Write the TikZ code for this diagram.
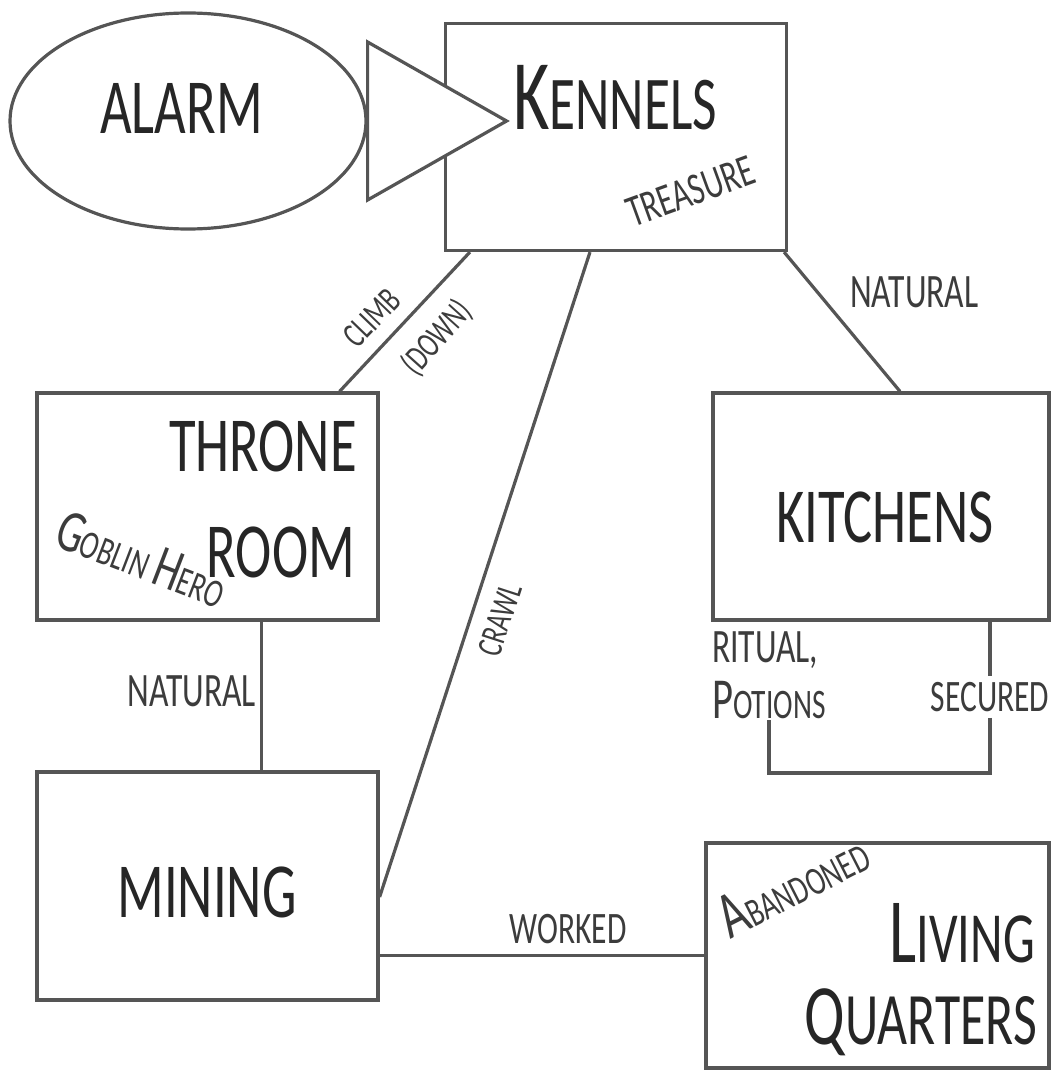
\documentclass[tikz,border=0pt]{standalone}
\usepackage{fontspec}
\setmainfont{Carlito}[FakeStretch=0.7]
\usepackage{tikz}
\usetikzlibrary{shapes.geometric}
\definecolor{ink}{HTML}{262626}
\definecolor{tagink}{HTML}{3c3c3c}
\definecolor{wallgrey}{HTML}{555555}
\newcommand{\titlefont}{\fontsize{78}{80}\selectfont}
\newcommand{\tagfont}{\fontsize{45}{48}\selectfont}
\newcommand{\widetagfont}{\fontsize{48}{50}\selectfont}
\newcommand{\linefont}{\fontsize{36}{40}\selectfont}
% first letter big, the rest as small capitals
\newcommand{\capsc}[4]{{\fontsize{#1}{#1}\selectfont #3}{\fontsize{#2}{#2}\selectfont #4}}

\begin{document}
\begin{tikzpicture}[
  x=1pt, y=-1pt,
  room/.style={draw=wallgrey, line width=3.2pt, minimum width=341pt,
               minimum height=227pt, inner sep=0pt},
  title/.style={text=ink, inner sep=0pt, font=\titlefont},
  tag/.style={text=tagink, inner sep=0pt, font=\tagfont},
  linetag/.style={text=tagink, inner sep=0pt, font=\linefont},
  link/.style={draw=wallgrey, line width=3.2pt}
]
\useasboundingbox (0,0) rectangle (1051,1070);

% rooms
\node[room, ellipse, minimum width=356pt, minimum height=216pt] (alarm) at (188,121) {};
\node[room] (kennels) at (616,137) {};
\draw[link, fill=white, line join=miter]
  ([yshift=79pt]alarm.east) -- ([xshift=139pt]alarm.east)
  -- ([yshift=-79pt]alarm.east) -- cycle;
\node[room] (throne) at (207.5,506.5) {};
\node[room, minimum width=336pt] (kitchens) at (881,506.5) {};
\node[room, minimum height=228pt] (mining) at (207.5,886) {};
\node[room, minimum width=343pt, minimum height=225pt] (living) at (877.5,955.5) {};

\node[title, anchor=base west] (alarmtxt) at (100,133) {ALARM};
\node[title, anchor=base west] (kennelstxt) at (513,130) {\capsc{100}{76}{K}{ENNELS}};
\node[title, anchor=base east] (thronetxt) at (357,471) {THRONE};
\node[title, anchor=base east] (roomtxt) at (355,577) {ROOM};
\node[title, anchor=base] (kitchenstxt) at (885,542) {KITCHENS};
\node[title, anchor=base] (miningtxt) at (207,917) {MINING};
\node[title, anchor=base east] (livingtxt) at (1035,962) {\capsc{92}{72}{L}{IVING}};
\node[title, anchor=base east] (quarterstxt) at (1037,1044) {\capsc{86}{74}{Q}{UARTERS}};

\node[tag, anchor=base west, rotate=20] (treasure) at (633,228) {TREASURE};
\node[tag, anchor=base west, rotate=-21] (goblin) at (52,545)
  {\capsc{60}{40}{G}{OBLIN} \capsc{60}{40}{H}{ERO}};
\node[tag, anchor=base west, rotate=27] (abandoned) at (730,940) {\capsc{66}{40}{A}{BANDONED}};

% passages
\draw[link] ([xshift=26pt]kennels.south west) -- ([xshift=-40pt]throne.north east);
\draw[link] ([xshift=-26pt]kennels.south) -- ([yshift=-11pt]mining.east);
\draw[link] ([xshift=-4pt]kennels.south east) -- ([xshift=19pt]kitchens.north);
\draw[link] ([xshift=54pt]throne.south) -- ([xshift=54pt]mining.north);
\draw[link] (mining.east |- living.west) -- (living.west);

\node[linetag, rotate=46] (climb) at (372,318) {CLIMB};
\node[linetag, rotate=48] (down) at (437,338) {(DOWN)};
\node[linetag, rotate=72] (crawl) at (500,620) {CRAWL};
\node[tag, font=\widetagfont, anchor=base east] (natural1) at (256,706) {NATURAL};
\node[tag, font=\widetagfont, anchor=base west] (natural2) at (850,307) {NATURAL};
\node[tag, anchor=base] (worked) at (568,943) {WORKED};

% kitchen loop
\node[tag, inner sep=6pt] (secured) at (990,697) {SECURED};
\node[tag, font=\widetagfont, anchor=base west] (ritual) at (712,662) {RITUAL,};
\node[tag, anchor=base west] (potions) at (712,718) {\capsc{58}{42}{P}{OTIONS}};
\coordinate (loopcorner) at (769,773);
\coordinate (loopend) at (769,720);
\draw[link] (kitchens.south -| secured) -- (secured.north);
\draw[link] (secured.south) |- (loopcorner) -- (loopend);
\end{tikzpicture}
\end{document}
